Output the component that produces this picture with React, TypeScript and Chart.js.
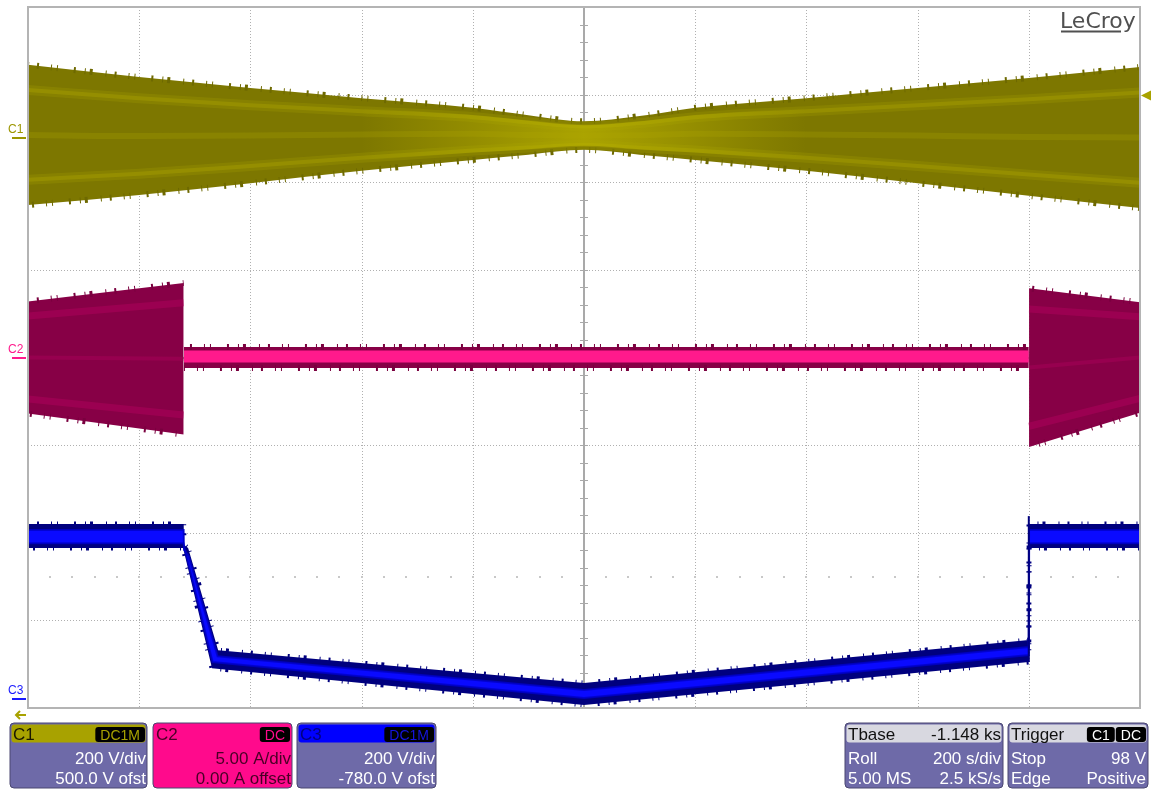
import React, { useEffect, useRef } from "react";
import { Chart, registerables } from "chart.js";

Chart.register(...registerables);

// ---- horizontal (roll mode, 200 s/div, 10 divisions) ----
const TIME_MIN = 0;
const TIME_MAX = 2000;
const TIME_GRID = [200, 400, 600, 800, 1200, 1400, 1600, 1800];
const DIV_GRID = [-3, -2, -1, 1, 2, 3];
const DIV_MIN = -4;
const DIV_MAX = 4;

// ---- channel settings ----
const C1_SCALE = 200; // V/div
const C1_OFFSET = 500; // V
const C2_SCALE = 5; // A/div
const C2_OFFSET = 0; // A
const C3_SCALE = 200; // V/div
const C3_OFFSET = -780; // V
const TRIGGER_LEVEL = 98; // V on C1

// ---- C1 envelope (V) ----
const c1Time = [0, 200, 400, 600, 800, 900, 1000, 1100, 1200, 1400, 1600, 1800, 2000];
const c1Upper = [168, 140, 115, 92, 70, 53, 39, 51, 70, 92, 115, 138, 163];
const c1Lower = [-152, -129, -102, -74, -49, -37, -26, -37, -49, -74, -102, -131, -159];

// ---- C2 envelope (A): left burst, idle band, right burst ----
const c2Time = [0, 280, 280.5, 1800, 1800.5, 2000];
const c2Upper = [3.2, 4.25, 0.6, 0.6, 3.95, 3.15];
const c2Lower = [-3.2, -4.4, -0.6, -0.6, -5.1, -3.15];
const c2CoreTime = [280.5, 1800];
const c2CoreUpper = [0.4, 0.4];
const c2CoreLower = [-0.28, -0.28];

// ---- C3 band (V) ----
const c3UpperTime = [0, 280, 280.6, 288, 342, 1000, 1800, 1800.4, 2000];
const c3Upper = [400, 400, 352, 345, 112, 37, 135, 400, 400];
const c3LowerTime = [0, 279, 331, 1000, 1800, 1800.6, 2000];
const c3Lower = [345, 345, 71, -13, 85, 345, 345];
const c3CoreUpperTime = [0, 280, 280.6, 289, 341, 1000, 1800, 1800.4, 2000];
const c3CoreUpper = [386, 386, 341, 327, 98, 21, 119, 386, 386];
const c3CoreLowerTime = [0, 279.5, 332, 1000, 1800, 1800.6, 2000];
const c3CoreLower = [356, 356, 85, 3, 101, 356, 356];
const c3StepTime = [1800, 1800];
const c3Step = [85, 418];

// ---- colours ----
const C1_FILL = "#7d7700";
const C1_EDGE = "#6e6900";
const C1_TEXT = "#9c9600";
const C1_HEAD = "#a8a200";
const C2_FILL = "#870046";
const C2_EDGE = "#7a003f";
const C2_CORE = "#ff1a8c";
const C3_FILL = "#00007e";
const C3_CORE = "#0a0aff";
const LAVENDER = "#6e6aa8";

// irregular pattern used to texture the sampled trace edges
const EDGE_TEXTURE = [1, 8, 2, 12, 1, 5, 1, 16, 2, 9, 1, 4, 3, 13];

const toC1 = (v: number) => (v + C1_OFFSET) / C1_SCALE;
const toC2 = (a: number) => (a + C2_OFFSET) / C2_SCALE;
const toC3 = (v: number) => (v + C3_OFFSET) / C3_SCALE;
const pts = (t: number[], v: number[], f: (n: number) => number) =>
  t.map((x, i) => ({ x, y: f(v[i]) }));
const mix = (hi: number[], lo: number[], k: number) => hi.map((v, i) => lo[i] + (v - lo[i]) * k);
const pick = (arr: number[], idx: number[]) => idx.map((i) => arr[i]);

function line(data: any[], color: string, width: number, fill: any = false, bg: any = "transparent", extra: any = {}) {
  return {
    data,
    borderColor: color,
    borderWidth: width,
    backgroundColor: bg,
    fill,
    pointRadius: 0,
    tension: 0,
    ...extra,
  };
}

// horizontal glow centred on the crossing of C1
function neckGlow(c: any) {
  const chart = c.chart;
  const a = chart.chartArea;
  if (!a) return "transparent";
  const xs = chart.scales.x;
  const x0 = xs.getPixelForValue(600);
  const x1 = xs.getPixelForValue(1400);
  const g = chart.ctx.createLinearGradient(x0, 0, x1, 0);
  g.addColorStop(0, "rgba(200,192,0,0)");
  g.addColorStop(0.5, "rgba(200,192,0,0.6)");
  g.addColorStop(1, "rgba(200,192,0,0)");
  return g;
}

function buildDatasets() {
  const ds: any[] = [];
  const smooth = { cubicInterpolationMode: "monotone" };
  const edge = { borderDash: EDGE_TEXTURE };
  // C1
  ds.push(line(pts(c1Time, c1Upper, toC1), C1_EDGE, 6, 1, C1_FILL, { ...smooth, ...edge })); // 0
  ds.push(line(pts(c1Time, c1Lower, toC1), C1_EDGE, 6, false, "transparent", { ...smooth, ...edge, borderDashOffset: 5 })); // 1
  ds.push(line(pts(c1Time, mix(c1Upper, c1Lower, 0.86), toC1), "transparent", 0, 3, neckGlow, smooth)); // 2
  ds.push(line(pts(c1Time, mix(c1Upper, c1Lower, 0.14), toC1), "transparent", 0, false, "transparent", smooth)); // 3
  ds.push(line(pts(c1Time, mix(c1Upper, c1Lower, 0.82), toC1), "rgba(175,168,0,0.22)", 10, false, "transparent", smooth));
  ds.push(line(pts(c1Time, mix(c1Upper, c1Lower, 0.18), toC1), "rgba(175,168,0,0.22)", 10, false, "transparent", smooth));
  ds.push(line(pts(c1Time, mix(c1Upper, c1Lower, 0.82), toC1), "rgba(190,182,0,0.25)", 4, false, "transparent", smooth));
  ds.push(line(pts(c1Time, mix(c1Upper, c1Lower, 0.18), toC1), "rgba(190,182,0,0.25)", 4, false, "transparent", smooth));
  ds.push(line(pts(c1Time, mix(c1Upper, c1Lower, 0.5), toC1), "rgba(175,168,0,0.25)", 6, false, "transparent", smooth));
  // C2 : three sections
  const sections = [
    [0, 1],
    [2, 3],
    [4, 5],
  ];
  sections.forEach((idx, s) => {
    const t = pick(c2Time, idx);
    const u = pick(c2Upper, idx);
    const l = pick(c2Lower, idx);
    const iu = ds.length;
    ds.push(line(pts(t, u, toC2), C2_EDGE, 6, iu + 1, C2_FILL, { ...edge, borderDashOffset: s * 3 }));
    ds.push(line(pts(t, l, toC2), C2_EDGE, 6, false, "transparent", { ...edge, borderDashOffset: 7 + s * 3 }));
    if (s !== 1) {
      ds.push(line(pts(t, mix(u, l, 0.87), toC2), "rgba(175,0,92,0.5)", 7));
      ds.push(line(pts(t, mix(u, l, 0.13), toC2), "rgba(175,0,92,0.5)", 7));
      ds.push(line(pts(t, mix(u, l, 0.5), toC2), "rgba(175,0,92,0.4)", 4));
    }
  });
  const i2c = ds.length;
  ds.push(line(pts(c2CoreTime, c2CoreUpper, toC2), "transparent", 0, i2c + 1, C2_CORE));
  ds.push(line(pts(c2CoreTime, c2CoreLower, toC2), "transparent", 0));
  // C3
  const i3 = ds.length;
  ds.push(line(pts(c3UpperTime, c3Upper, toC3), C3_FILL, 5, i3 + 1, C3_FILL, edge));
  ds.push(line(pts(c3LowerTime, c3Lower, toC3), C3_FILL, 5, false, "transparent", { ...edge, borderDashOffset: 4 }));
  const i3c = ds.length;
  ds.push(line(pts(c3CoreUpperTime, c3CoreUpper, toC3), "rgba(0,0,200,0.8)", 2, i3c + 1, C3_CORE));
  ds.push(line(pts(c3CoreLowerTime, c3CoreLower, toC3), "rgba(0,0,200,0.8)", 2));
  ds.push(line(pts(c3StepTime, c3Step, toC3), C3_FILL, 2));
  ds.forEach((d, i) => (d.order = 200 - i));
  return ds;
}

function roundBox(ctx: CanvasRenderingContext2D, x: number, y: number, w: number, h: number, r: number) {
  ctx.beginPath();
  (ctx as any).roundRect(x, y, w, h, r);
}

const FONT = "'Liberation Sans', Arial, sans-serif";

function badge(ctx: CanvasRenderingContext2D, rightX: number, y: number, text: string, color: string) {
  ctx.font = `14px ${FONT}`;
  const w = ctx.measureText(text).width + 10;
  roundBox(ctx, rightX - w, y, w, 15, 3);
  ctx.fillStyle = "#000";
  ctx.fill();
  ctx.fillStyle = color;
  ctx.textAlign = "center";
  ctx.fillText(text, rightX - w / 2, y + 12.5);
  return rightX - w;
}

function channelBox(
  ctx: CanvasRenderingContext2D,
  x: number,
  w: number,
  head: string,
  body: string,
  label: string,
  labelColor: string,
  badgeText: string,
  badgeColor: string,
  l1: string,
  l2: string,
  textColor: string
) {
  const y = 723;
  roundBox(ctx, x, y, w, 65, 4);
  ctx.fillStyle = body;
  ctx.fill();
  ctx.strokeStyle = "#4a4770";
  ctx.lineWidth = 1;
  ctx.stroke();
  roundBox(ctx, x + 1.5, y + 1.5, w - 3, 18, 3);
  ctx.fillStyle = head;
  ctx.fill();
  ctx.font = `17px ${FONT}`;
  ctx.textAlign = "left";
  ctx.fillStyle = labelColor;
  ctx.fillText(label, x + 3, y + 17);
  badge(ctx, x + w - 2, y + 4, badgeText, badgeColor);
  ctx.font = `17px ${FONT}`;
  ctx.textAlign = "right";
  ctx.fillStyle = textColor;
  ctx.fillText(l1, x + w - 1, y + 41);
  ctx.fillText(l2, x + w - 1, y + 61);
}

function infoBox(
  ctx: CanvasRenderingContext2D,
  x: number,
  w: number,
  headL: string,
  headR: string | null,
  rows: [string, string][]
) {
  const y = 723;
  roundBox(ctx, x, y, w, 65, 4);
  ctx.fillStyle = LAVENDER;
  ctx.fill();
  ctx.strokeStyle = "#4a4770";
  ctx.lineWidth = 1;
  ctx.stroke();
  roundBox(ctx, x + 1.5, y + 1.5, w - 3, 18, 3);
  ctx.fillStyle = "#d8d8e0";
  ctx.fill();
  ctx.font = `17px ${FONT}`;
  ctx.fillStyle = "#111";
  ctx.textAlign = "left";
  ctx.fillText(headL, x + 3, y + 17);
  if (headR) {
    ctx.textAlign = "right";
    ctx.fillText(headR, x + w - 2, y + 17);
  }
  ctx.fillStyle = "#fff";
  rows.forEach((r, i) => {
    ctx.textAlign = "left";
    ctx.fillText(r[0], x + 3, y + 41 + i * 20);
    ctx.textAlign = "right";
    ctx.fillText(r[1], x + w - 2, y + 41 + i * 20);
  });
}

const scopePlugin = {
  id: "scope",
  beforeDraw(chart: any) {
    const { ctx, width, height } = chart;
    ctx.save();
    ctx.fillStyle = "#fff";
    ctx.fillRect(0, 0, width, height);
    ctx.restore();
  },
  beforeDatasetsDraw(chart: any) {
    const { ctx, chartArea: a, scales } = chart;
    const xs = scales.x;
    const ys = scales.y;
    ctx.save();
    ctx.strokeStyle = "#b0b0b0";
    ctx.lineWidth = 1;
    ctx.setLineDash([1, 2]);
    TIME_GRID.forEach((t) => {
      const px = Math.round(xs.getPixelForValue(t)) + 0.5;
      ctx.beginPath();
      ctx.moveTo(px, a.top);
      ctx.lineTo(px, a.bottom);
      ctx.stroke();
    });
    DIV_GRID.forEach((d) => {
      const py = Math.round(ys.getPixelForValue(d)) + 0.5;
      ctx.beginPath();
      ctx.moveTo(a.left, py);
      ctx.lineTo(a.right, py);
      ctx.stroke();
    });
    ctx.setLineDash([]);
    // faint dotted row at -2.5 div
    ctx.fillStyle = "#c8c8c8";
    const rowY = Math.round(ys.getPixelForValue(-2.5));
    for (let k = 1; k < 50; k++) {
      const t = TIME_MIN + (k * (TIME_MAX - TIME_MIN)) / 50;
      ctx.fillRect(Math.round(xs.getPixelForValue(t)) - 1, rowY - 1, 2, 2);
    }
    // centre crosshair with minor ticks
    const cx = Math.round(xs.getPixelForValue((TIME_MIN + TIME_MAX) / 2));
    const cy = Math.round(ys.getPixelForValue(0));
    ctx.fillStyle = "#a9a9a9";
    ctx.fillRect(cx - 1, a.top, 2, a.bottom - a.top);
    ctx.fillRect(a.left, cy - 1, a.right - a.left, 2);
    for (let k = 1; k < 40; k++) {
      const d = DIV_MIN + (k * (DIV_MAX - DIV_MIN)) / 40;
      const py = Math.round(ys.getPixelForValue(d));
      ctx.fillRect(cx - 4, py, 8, 1);
    }
    for (let k = 1; k < 50; k++) {
      const t = TIME_MIN + (k * (TIME_MAX - TIME_MIN)) / 50;
      const px = Math.round(xs.getPixelForValue(t));
      ctx.fillRect(px, cy - 4, 1, 8);
    }
    ctx.restore();
  },
  afterDatasetsDraw(chart: any) {
    const { ctx, chartArea: a, scales } = chart;
    const ys = scales.y;
    ctx.save();
    ctx.strokeStyle = "#b4b4b4";
    ctx.lineWidth = 2;
    ctx.strokeRect(a.left, a.top, a.right - a.left, a.bottom - a.top);
    // channel ground markers
    const markers: [string, number, string][] = [
      ["C1", toC1(0), C1_TEXT],
      ["C2", toC2(0), C2_CORE],
      ["C3", toC3(0), "#1a1aff"],
    ];
    ctx.font = `12px ${FONT}`;
    ctx.textAlign = "left";
    markers.forEach(([lbl, d, col]) => {
      const py = Math.round(ys.getPixelForValue(d));
      ctx.fillStyle = col;
      ctx.fillText(lbl, 8, py - 5);
      ctx.fillRect(12, py - 1, 14, 2);
    });
    // trigger level marker
    const ty = ys.getPixelForValue(toC1(TRIGGER_LEVEL));
    ctx.fillStyle = C1_HEAD;
    ctx.beginPath();
    ctx.moveTo(a.right + 1, ty);
    ctx.lineTo(a.right + 11, ty - 5);
    ctx.lineTo(a.right + 11, ty + 5);
    ctx.closePath();
    ctx.fill();
    // trigger time (off-screen left) arrow
    ctx.strokeStyle = C1_HEAD;
    ctx.lineWidth = 2;
    ctx.beginPath();
    ctx.moveTo(26, 715);
    ctx.lineTo(16, 715);
    ctx.moveTo(20, 711);
    ctx.lineTo(16, 715);
    ctx.lineTo(20, 719);
    ctx.stroke();
    ctx.restore();
  },
  afterDraw(chart: any) {
    const { ctx } = chart;
    ctx.save();
    // LeCroy logo
    ctx.font = `22px 'DejaVu Sans', sans-serif`;
    ctx.fillStyle = "#505050";
    ctx.textAlign = "left";
    ctx.fillText("LeCroy", 1060, 28);
    ctx.fillRect(1061, 30.5, 60, 2);
    // channel boxes
    channelBox(ctx, 10, 137, C1_HEAD, LAVENDER, "C1", "#1a1800", "DC1M", C1_HEAD, "200 V/div", "500.0 V ofst", "#fff");
    channelBox(ctx, 153, 139, "#ff0a8c", "#ff0a8c", "C2", "#4a0026", "DC", "#ff0a8c", "5.00 A/div", "0.00 A offset", "#4a0026");
    channelBox(ctx, 297, 139, "#0000ff", LAVENDER, "C3", "#000080", "DC1M", "#1515e0", "200 V/div", "-780.0 V ofst", "#fff");
    infoBox(ctx, 845, 158, "Tbase", "-1.148 ks", [
      ["Roll", "200 s/div"],
      ["5.00 MS", "2.5 kS/s"],
    ]);
    infoBox(ctx, 1008, 140, "Trigger", null, [
      ["Stop", "98 V"],
      ["Edge", "Positive"],
    ]);
    const bx = badge(ctx, 1146, 727, "DC", "#fff");
    badge(ctx, bx - 1, 727, "C1", "#fff");
    ctx.restore();
  },
};

export default function App() {
  const ref = useRef<HTMLCanvasElement>(null);
  useEffect(() => {
    const chart = new Chart(ref.current as HTMLCanvasElement, {
      type: "line",
      data: { datasets: buildDatasets() },
      options: {
        animation: false,
        responsive: false,
        devicePixelRatio: 1,
        events: [],
        layout: { padding: { left: 28, right: 12, top: 7, bottom: 82 } },
        scales: {
          x: { type: "linear", min: TIME_MIN, max: TIME_MAX, display: false },
          y: { type: "linear", min: DIV_MIN, max: DIV_MAX, display: false },
        },
        plugins: { legend: { display: false }, tooltip: { enabled: false } },
      } as any,
      plugins: [scopePlugin],
    });
    return () => chart.destroy();
  }, []);
  return (
    <div style={{ position: "absolute", left: 0, top: 0, width: 1152, height: 790, background: "#fff" }}>
      <canvas ref={ref} width={1152} height={790} style={{ display: "block", width: 1152, height: 790 }} />
    </div>
  );
}
